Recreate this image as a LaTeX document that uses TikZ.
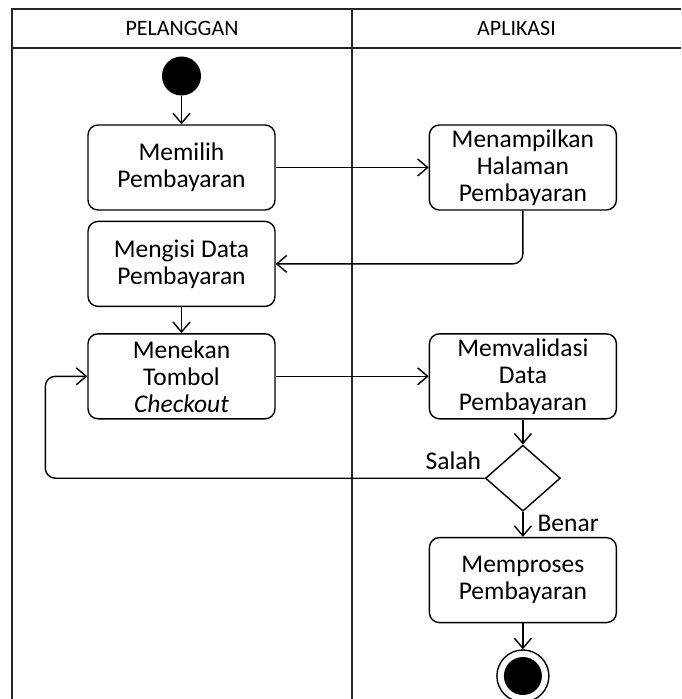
\documentclass[tikz,border=0pt]{standalone}
\usepackage{fontspec}
\setmainfont{Carlito}
\usetikzlibrary{positioning, arrows.meta, shapes.geometric}

\begin{document}
\begin{tikzpicture}[x=1pt, y=-1pt,
  font=\fontsize{25.5}{27}\selectfont,
  act/.style={draw, rounded corners=10pt, minimum width=187pt,
              minimum height=85pt, align=center, line width=1.4pt,
              inner sep=2pt, text=black},
  dec/.style={draw, diamond, minimum width=75pt, minimum height=66pt,
              inner sep=0pt, line width=1.4pt},
  arr/.style={-{Straight Barb[length=10pt, width=17pt]}, line width=1.4pt},
  lane/.style={line width=2pt, black!85},
  lbl/.style={text=black, inner sep=2pt}
]
  \useasboundingbox (0,0) rectangle (681,699);

  % swimlanes
  \draw[lane] (12,699) -- (12,9) -- (681,9);
  \draw[lane] (12,48) -- (681,48);
  \draw[lane] (352,9) -- (352,699);
  \node[lbl, font=\fontsize{22}{26}\selectfont] (pel) at (182,28.5) {PELANGGAN};
  \node[lbl, font=\fontsize{22}{26}\selectfont] (apl) at (516.5,28.5) {APLIKASI};

  % pelanggan
  \node[circle, fill=black, minimum size=39pt, inner sep=0pt] (start) at (181.5,76) {};
  \node[act] (pilih) at (181.5,167.5) {Memilih\\Pembayaran};
  \node[act, below=10pt of pilih] (isi) {Mengisi Data\\Pembayaran};
  \node[act, below=26pt of isi] (tekan) {Menekan\\Tombol\\\textit{Checkout}};

  % aplikasi
  \node[act, right=153pt of pilih] (tampil) {Menampilkan\\Halaman\\Pembayaran};
  \node[act, right=153pt of tekan] (valid) {Memvalidasi\\Data\\Pembayaran};
  \node[dec, below=25pt of valid] (cek) {};
  \node[act, below=25pt of cek] (proses) {Memproses\\Pembayaran};
  \node[circle, draw, line width=1.4pt, minimum size=52pt, inner sep=0pt,
        below=26pt of proses] (end) {};
  \node[circle, fill=black, minimum size=38pt, inner sep=0pt] (endin) at (end) {};

  \coordinate (balik) at ([xshift=-42pt]tekan.west);

  \draw[arr] (start)  -- (pilih);
  \draw[arr] (pilih)  -- (tampil);
  \draw[arr, rounded corners=10pt] (tampil.south) |- (isi.east);
  \draw[arr] (isi)    -- (tekan);
  \draw[arr] (tekan)  -- (valid);
  \draw[arr] (valid)  -- (cek);
  \draw[arr, rounded corners=10pt] (cek.west)
    node[lbl, above left=6pt and 1pt] {Salah} -| (balik) -- (tekan.west);
  \draw[arr] (cek) -- (proses)
    node[lbl, pos=0.45, right=12pt] {Benar};
  \draw[arr] (proses) -- (end);
\end{tikzpicture}
\end{document}
